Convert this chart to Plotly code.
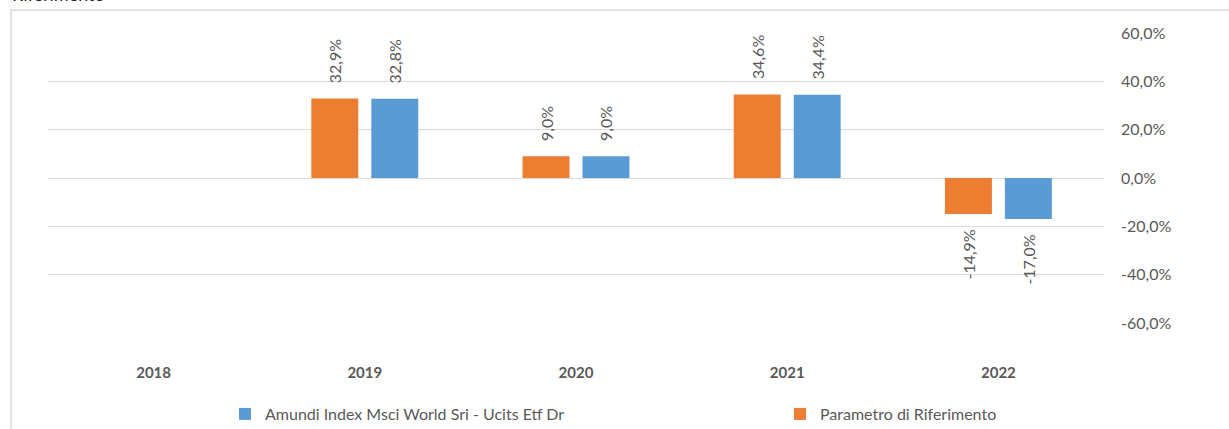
import plotly.graph_objects as go

years = ["2018", "2019", "2020", "2021", "2022"]
parametro = [None, 32.9, 9.0, 34.6, -14.9]
amundi = [None, 32.8, 9.0, 34.4, -17.0]
ytick_vals = [-60, -40, -20, 0, 20, 40, 60]

name_amundi = "Amundi Index Msci World Sri - Ucits Etf Dr"
name_param = "Parametro di Riferimento"

ORANGE = "#ED7D31"
BLUE = "#5B9BD5"
GREY_TXT = "#595959"
GRID = "#D9D9D9"
FONT = "Lato, 'Open Sans', sans-serif"

W, H = 1229, 429
L, R, T, B = 48, 125, 33, 106
ph = H - T - B


def py(pix):
    return (H - B - pix) / ph


def px(pix):
    return (pix - L) / (W - L - R)


PAD = "\u00a0\u00a0\u00a0"


def label(v):
    if v is None:
        return None
    s = f"{v:.1f}".replace(".", ",") + "%"
    # rotated text reads bottom-to-top: pad the end nearest the bar
    return s + PAD if v < 0 else PAD + s


fig = go.Figure()
for name, vals, col, lg in [(name_param, parametro, ORANGE, "legend2"),
                            (name_amundi, amundi, BLUE, "legend")]:
    fig.add_trace(go.Bar(
        x=years, y=vals, name=name, legend=lg,
        marker=dict(color=col, line=dict(width=0)),
        text=[label(v) for v in vals],
        textposition="outside", textangle=-90,
        textfont=dict(size=16, color=GREY_TXT, family=FONT),
        constraintext="none", cliponaxis=False,
    ))

legend_common = dict(
    orientation="h", yanchor="middle", y=py(414), xanchor="left",
    font=dict(size=16, color=GREY_TXT, family=FONT),
    itemwidth=30, bgcolor="rgba(0,0,0,0)",
)

fig.update_layout(
    width=W, height=H,
    margin=dict(l=L, r=R, t=T, b=B, autoexpand=False),
    paper_bgcolor="white", plot_bgcolor="white",
    font=dict(family=FONT, color=GREY_TXT, size=15),
    separators=",.",
    barmode="group", bargap=0.432, bargroupgap=0.217,
    showlegend=True,
    legend=dict(x=px(225), **legend_common),
    legend2=dict(x=px(780), **legend_common),
    xaxis=dict(
        showgrid=False, showline=False, zeroline=False, automargin=False,
        tickfont=dict(size=15, color=GREY_TXT, family=FONT, weight="bold"),
        ticklabelstandoff=39, ticks="",
    ),
    yaxis=dict(
        side="right", range=[-60, 60], tickvals=ytick_vals, automargin=False,
        ticktext=[f"{v:.1f}".replace(".", ",") + "%" for v in ytick_vals],
        showgrid=True, gridcolor=GRID, gridwidth=1.3,
        zeroline=True, zerolinecolor=GRID, zerolinewidth=1.3,
        showline=False, ticks="", ticklabelstandoff=16,
        tickfont=dict(size=16, color=GREY_TXT, family=FONT),
    ),
    shapes=[dict(
        type="rect", xref="paper", yref="paper",
        x0=px(11), x1=px(1300), y0=py(500), y1=py(10),
        line=dict(color=GRID, width=1.5), fillcolor="rgba(0,0,0,0)", layer="below",
    )],
    annotations=[dict(
        text="Riferimento", xref="paper", yref="paper",
        x=px(10), xanchor="left", y=py(7), yanchor="bottom",
        showarrow=False, font=dict(size=18, color="#262626", family=FONT),
    )],
)

fig.write_html(
    "out.html",
    config={"displayModeBar": False},
    post_script="document.body.style.margin='0';document.body.style.overflow='hidden';",
)
